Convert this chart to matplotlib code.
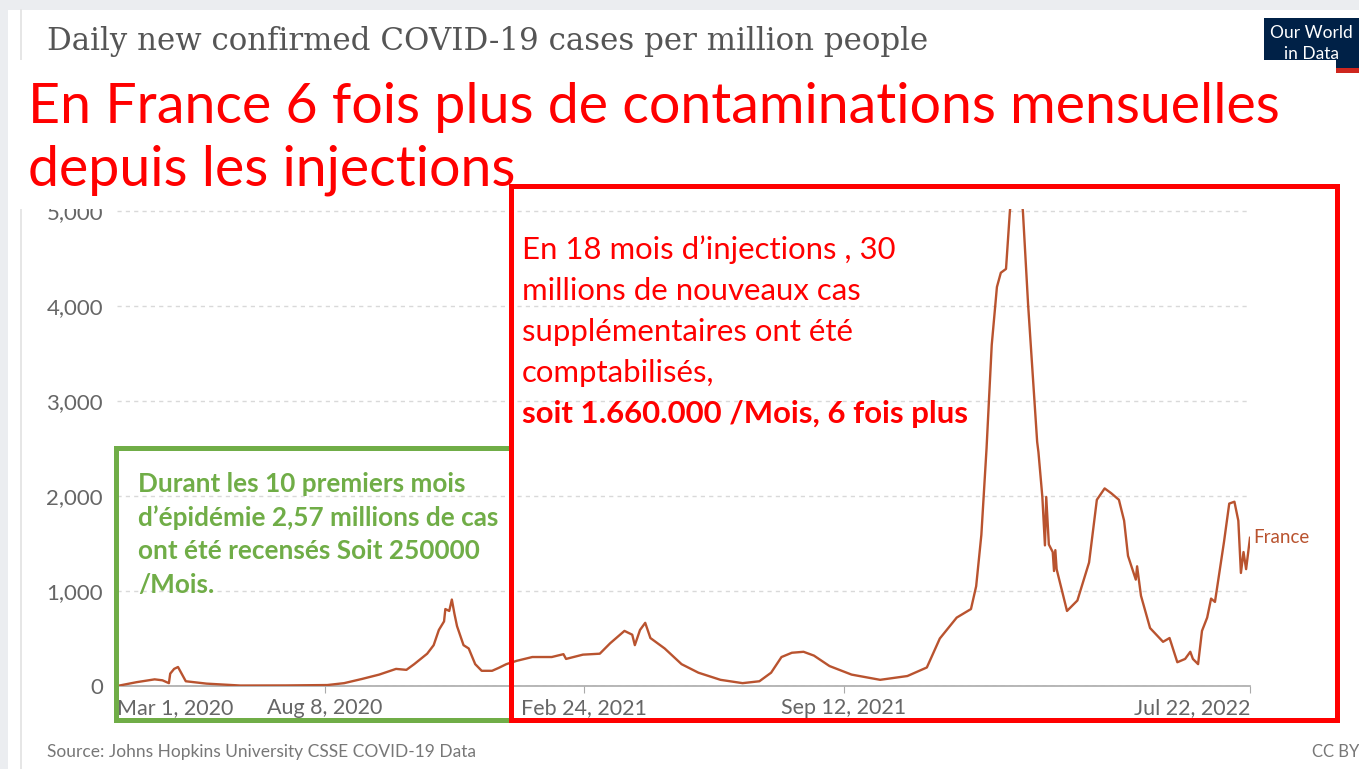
import matplotlib
matplotlib.use("Agg")
import matplotlib.pyplot as plt
import pandas as pd
from matplotlib.patches import Rectangle
from matplotlib.lines import Line2D

W, H = 1359, 769
LINE = "#b9532f"
RED = "#ff0000"
GREEN = "#70ad47"
GREY_TXT = "#666666"

# daily new confirmed cases per million, France
dates = [
    "2020-03-01", "2020-03-16", "2020-03-30", "2020-04-05", "2020-04-10", "2020-04-11",
    "2020-04-14", "2020-04-17", "2020-04-23", "2020-05-09", "2020-06-04", "2020-07-09",
    "2020-08-10", "2020-08-23", "2020-09-06", "2020-09-19", "2020-10-02", "2020-10-10",
    "2020-10-16", "2020-10-26", "2020-10-31", "2020-11-04", "2020-11-08", "2020-11-09",
    "2020-11-12", "2020-11-14", "2020-11-16", "2020-11-18", "2020-11-23", "2020-11-27",
    "2020-12-02", "2020-12-07", "2020-12-15", "2020-12-20", "2020-12-26", "2021-01-03",
    "2021-01-15", "2021-01-30", "2021-02-08", "2021-02-10", "2021-02-23", "2021-03-08",
    "2021-03-16", "2021-03-27", "2021-04-02", "2021-04-04", "2021-04-08", "2021-04-12",
    "2021-04-16", "2021-04-27", "2021-05-10", "2021-05-23", "2021-06-09", "2021-06-26",
    "2021-07-09", "2021-07-18", "2021-07-26", "2021-08-03", "2021-08-12", "2021-08-20",
    "2021-09-01", "2021-09-18", "2021-10-10", "2021-10-31", "2021-11-15", "2021-11-25",
    "2021-12-08", "2021-12-19", "2021-12-23", "2021-12-27", "2021-12-31", "2022-01-04",
    "2022-01-08", "2022-01-11", "2022-01-15", "2022-01-18", "2022-01-23", "2022-01-28",
    "2022-02-01", "2022-02-08", "2022-02-09", "2022-02-12", "2022-02-14", "2022-02-15",
    "2022-02-17", "2022-02-20", "2022-02-21", "2022-02-22", "2022-02-23", "2022-03-03",
    "2022-03-11", "2022-03-20", "2022-03-26", "2022-04-01", "2022-04-06", "2022-04-12",
    "2022-04-16", "2022-04-19", "2022-04-25", "2022-04-26", "2022-04-29", "2022-05-06",
    "2022-05-16", "2022-05-21", "2022-05-27", "2022-06-02", "2022-06-06", "2022-06-08",
    "2022-06-12", "2022-06-15", "2022-06-19", "2022-06-22", "2022-06-25", "2022-07-02",
    "2022-07-06", "2022-07-10", "2022-07-13", "2022-07-15", "2022-07-17", "2022-07-19",
    "2022-07-22",
]
cases = [
    0, 40, 70, 60, 30, 130,
    180, 200, 50, 25, 5, 6,
    10, 30, 75, 120, 180, 170,
    230, 340, 430, 590, 680, 810,
    790, 910, 760, 630, 430, 395,
    230, 160, 160, 190, 230, 265,
    305, 305, 335, 285, 330, 340,
    450, 580, 540, 430, 590, 665,
    505, 395, 230, 140, 65, 30,
    50, 140, 305, 350, 360, 320,
    210, 120, 65, 105, 195, 500,
    720, 810, 1050, 1590, 2500, 3590,
    4200, 4350, 4390, 5000, 5600, 5000,
    4020, 2570, 2460, 1990, 1480, 1990,
    1490, 1410, 1210, 1430, 1230, 790,
    900, 1300, 1960, 2080, 2030, 1960,
    1740, 1370, 1120, 1260, 950, 610,
    465, 505, 250, 285, 360, 285,
    230, 580, 720, 920, 885, 1520,
    1920, 1940, 1740, 1190, 1410, 1230,
    1560,
]

y_ticks = [0, 1000, 2000, 3000, 4000, 5000]
y_tick_labels = ["0", "1,000", "2,000", "3,000", "4,000", "5,000"]
x_tick_dates = ["2020-03-01", "2020-08-08", "2021-02-24", "2021-09-12", "2022-07-22"]
x_tick_labels = ["Mar 1, 2020", "Aug 8, 2020", "Feb 24, 2021", "Sep 12, 2021", "Jul 22, 2022"]

owid_title = "Daily new confirmed COVID-19 cases per million people"
headline = ["En France 6 fois plus de contaminations mensuelles", "depuis les injections"]
red_note = [
    "En 18 mois d\u2019injections , 30",
    "millions de nouveaux cas",
    "suppl\u00e9mentaires ont \u00e9t\u00e9",
    "comptabilis\u00e9s,",
    "soit 1.660.000 /Mois, 6 fois plus",
]
green_note = [
    "Durant les 10 premiers mois",
    "d\u2019\u00e9pid\u00e9mie 2,57 millions de cas",
    "ont \u00e9t\u00e9 recens\u00e9s Soit 250000",
    "/Mois.",
]
source = "Source: Johns Hopkins University CSSE COVID-19 Data"


def fx(x):
    return x / W


def fy(y):
    return 1 - y / H


def box(x0, y0, x1, y1, **kw):
    r = Rectangle((fx(x0), fy(y1)), fx(x1) - fx(x0), fy(y0) - fy(y1),
                  transform=fig.transFigure, **kw)
    fig.add_artist(r)
    return r


fig = plt.figure(figsize=(W / 100, H / 100), dpi=100, facecolor="white")

# page chrome
box(0, 0, W, 10, color="#ebedf0", lw=0, zorder=-10)
box(0, 0, 8, H, color="#ebedf0", lw=0, zorder=-10)
fig.add_artist(Line2D([fx(21), fx(21)], [fy(10), 0], transform=fig.transFigure,
                      color="#e2e2e2", lw=1.2, zorder=-9))

ax = fig.add_axes([fx(117), fy(686), fx(1250) - fx(117), fy(116) - fy(686)])
ax.set_facecolor("none")
ax.plot(pd.to_datetime(dates), cases, color=LINE, lw=1.7, zorder=3)
ax.set_xlim(pd.Timestamp("2020-03-01"), pd.Timestamp("2022-07-22"))
ax.set_ylim(0, 6000)
ax.set_yticks(y_ticks)
ax.set_yticklabels(y_tick_labels, family="Lato")
ax.set_xticks(pd.to_datetime(x_tick_dates))
ax.set_xticklabels(x_tick_labels, family="Lato")
xl = ax.get_xticklabels()
xl[0].set_ha("left")
xl[-1].set_ha("right")
ax.yaxis.grid(True, ls=(0, (3, 3)), color="#d9d9d9", lw=1)
for s in ["top", "right", "left"]:
    ax.spines[s].set_visible(False)
ax.spines["bottom"].set_color("#aaaaaa")
ax.spines["bottom"].set_linewidth(1.2)
ax.tick_params(axis="x", length=5, color="#aaaaaa", labelcolor=GREY_TXT, labelsize=15.5, pad=4)
ax.tick_params(axis="y", length=0, labelcolor=GREY_TXT, labelsize=16, pad=10)
ax.annotate("France", (pd.Timestamp(dates[-1]), cases[-1]), xytext=(2, 0),
            textcoords="offset points", va="center", ha="left", color=LINE,
            fontsize=13.5, family="Lato", annotation_clip=False)

# OWID header and logo
fig.text(fx(47), fy(50), owid_title, family="DejaVu Serif", fontsize=22.2,
         color="#555555", va="baseline")
box(1264, 18, W, 68, color="#002147", lw=0, zorder=5)
box(1264, 68, W, 73, color="#ce261e", lw=0, zorder=5)
fig.text(fx(1311), fy(33), "Our World", color="white", fontsize=12.5, family="Lato",
         ha="center", va="center", zorder=6)
fig.text(fx(1311), fy(54), "in Data", color="white", fontsize=12.5, family="Lato",
         ha="center", va="center", zorder=6)

# white overlay carrying the French headline
box(15, 60, 1336, 209, color="white", lw=0, zorder=10)
for txt, base in zip(headline, [123, 185]):
    fig.text(fx(28), fy(base), txt, color=RED, fontsize=40, family="Lato",
             va="baseline", zorder=11)

# annotation boxes
box(116, 448, 511, 720, fill=False, ec=GREEN, lw=3.6, zorder=12)
box(511, 186, 1337, 720, fill=False, ec=RED, lw=3.6, zorder=13)

for i, txt in enumerate(red_note):
    fig.text(fx(522), fy(259 + 41 * i), txt, color=RED, fontsize=22.4, family="Lato",
             fontweight="bold" if i == len(red_note) - 1 else "normal",
             va="baseline", zorder=14)
for i, txt in enumerate(green_note):
    fig.text(fx(138), fy(492 + 33.7 * i), txt, color=GREEN, fontsize=18.8, family="Lato",
             fontweight="bold", va="baseline", zorder=14)

fig.text(fx(47), fy(752), source, color="#777777", fontsize=12.5, family="Lato", va="center")
fig.text(fx(W), fy(752), "CC BY", color="#777777", fontsize=12, family="Lato",
         va="center", ha="right")

fig.savefig("out.png", dpi=100, facecolor="white")
